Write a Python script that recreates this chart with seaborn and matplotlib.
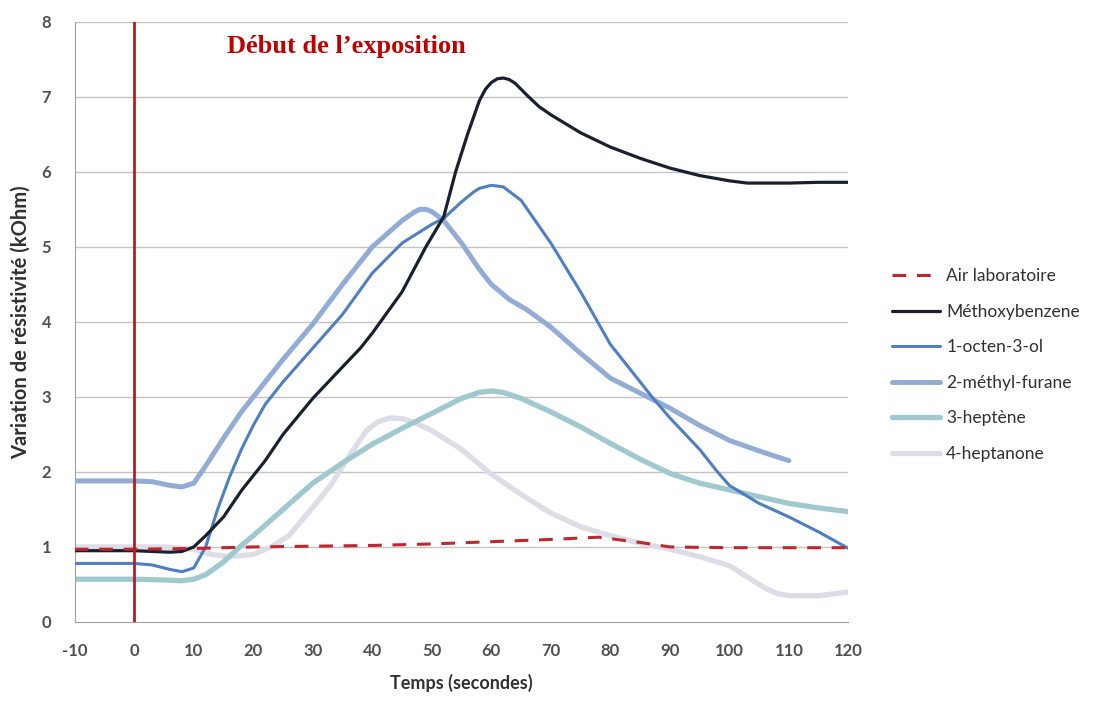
import matplotlib
matplotlib.use("Agg")
import matplotlib.pyplot as plt
import seaborn as sns

# Data (time in s, resistivity variation in kOhm)
t_air = [-10, 0, 10, 20, 30, 40, 50, 60, 70, 78, 85, 90, 100, 110, 120]
v_air = [0.97, 0.97, 0.98, 1.0, 1.01, 1.02, 1.04, 1.07, 1.1, 1.13, 1.06, 1.0, 0.99, 0.99, 0.99]

t_meth = [-10, -5, 0, 3, 6, 8, 10, 12, 15, 18, 20, 22, 25, 30, 35, 38, 40, 45, 49, 52, 54, 56,
          58, 59, 60, 61, 62, 63, 64, 66, 68, 70, 75, 80, 85, 90, 95, 100, 103, 110, 115, 120]
v_meth = [0.95, 0.95, 0.95, 0.94, 0.93, 0.94, 1.0, 1.15, 1.4, 1.75, 1.95, 2.15, 2.5, 2.98, 3.4,
          3.65, 3.85, 4.4, 5.0, 5.4, 6.0, 6.5, 6.95, 7.1, 7.19, 7.24, 7.25, 7.23, 7.18, 7.02,
          6.87, 6.76, 6.52, 6.33, 6.18, 6.05, 5.95, 5.88, 5.85, 5.85, 5.86, 5.86]

t_oct = [-10, -5, 0, 3, 6, 8, 10, 12, 14, 16, 18, 20, 22, 25, 30, 35, 40, 45, 50, 52, 55, 57,
         58, 60, 62, 65, 70, 75, 80, 85, 87, 90, 95, 98, 100, 105, 110, 115, 120]
v_oct = [0.78, 0.78, 0.78, 0.76, 0.7, 0.67, 0.72, 1.0, 1.5, 1.93, 2.3, 2.62, 2.9, 3.2, 3.65,
         4.1, 4.65, 5.05, 5.3, 5.38, 5.6, 5.73, 5.78, 5.82, 5.8, 5.62, 5.05, 4.4, 3.7, 3.2, 3.0,
         2.72, 2.3, 2.0, 1.82, 1.58, 1.4, 1.2, 0.98]

t_mf = [-10, -5, 0, 3, 6, 8, 10, 12, 15, 18, 20, 25, 30, 35, 40, 45, 47, 48, 49, 50, 52, 55,
        58, 60, 63, 66, 70, 75, 80, 85, 90, 95, 100, 105, 110]
v_mf = [1.88, 1.88, 1.88, 1.87, 1.82, 1.8, 1.85, 2.08, 2.45, 2.8, 3.0, 3.5, 3.97, 4.5, 5.0,
        5.35, 5.46, 5.5, 5.5, 5.47, 5.35, 5.05, 4.7, 4.5, 4.3, 4.16, 3.93, 3.58, 3.25, 3.05,
        2.85, 2.62, 2.42, 2.28, 2.15]

t_hep = [-10, -5, 0, 5, 8, 10, 12, 15, 18, 20, 25, 30, 35, 40, 45, 50, 55, 58, 60, 62, 65,
         70, 75, 80, 85, 90, 95, 100, 105, 110, 115, 120]
v_hep = [0.57, 0.57, 0.57, 0.56, 0.55, 0.57, 0.63, 0.8, 1.02, 1.15, 1.5, 1.85, 2.12, 2.37,
         2.58, 2.78, 2.98, 3.06, 3.08, 3.06, 2.98, 2.8, 2.6, 2.38, 2.17, 1.98, 1.85, 1.76,
         1.67, 1.58, 1.52, 1.47]

t_hpn = [-10, -5, 0, 5, 10, 13, 16, 20, 23, 26, 30, 33, 36, 39, 41, 43, 45, 47, 50, 55, 60,
         65, 70, 75, 80, 85, 90, 95, 100, 103, 106, 108, 110, 115, 120]
v_hpn = [1.0, 1.0, 1.0, 1.0, 0.97, 0.9, 0.87, 0.9, 1.0, 1.15, 1.53, 1.82, 2.2, 2.55, 2.67,
         2.72, 2.71, 2.66, 2.55, 2.3, 1.97, 1.7, 1.45, 1.27, 1.15, 1.05, 0.97, 0.87, 0.75,
         0.6, 0.45, 0.38, 0.35, 0.35, 0.4]

labels = ["Air laboratoire", "Méthoxybenzene", "1-octen-3-ol", "2-méthyl-furane",
          "3-heptène", "4-heptanone"]
x_ticks = list(range(-10, 121, 10))
y_ticks = list(range(0, 9))

sns.set_style("white")
plt.rcParams['font.family'] = ['Lato', 'DejaVu Sans']
plt.rcParams['axes.unicode_minus'] = False

fig, ax = plt.subplots(figsize=(10.99, 7.02), dpi=100)
fig.subplots_adjust(left=0.068, right=0.772, bottom=0.114, top=0.969)

for y in y_ticks[1:]:
    ax.axhline(y, color='#c4c4c4', lw=1, zorder=0)

ax.axvline(0, color='#b21f1f', lw=2, zorder=5)

style = dict(solid_joinstyle='round', solid_capstyle='round')
sns.lineplot(x=t_hpn, y=v_hpn, ax=ax, color='#dcdde6', lw=3.8, label=labels[5], zorder=2, **style)
sns.lineplot(x=t_hep, y=v_hep, ax=ax, color='#9fc9cf', lw=3.8, label=labels[4], zorder=2, **style)
sns.lineplot(x=t_mf, y=v_mf, ax=ax, color='#93acd6', lw=3.6, label=labels[3], zorder=3, **style)
sns.lineplot(x=t_oct, y=v_oct, ax=ax, color='#4f7fc2', lw=2.2, label=labels[2], zorder=3, **style)
sns.lineplot(x=t_meth, y=v_meth, ax=ax, color='#18202f', lw=2.3, label=labels[1], zorder=4, **style)
sns.lineplot(x=t_air, y=v_air, ax=ax, color='#c0272d', lw=2.2, label=labels[0],
             dashes=(4.5, 3.5), zorder=4)

ax.set_xlim(-10, 120)
ax.set_ylim(0, 8)
ax.set_xticks(x_ticks)
ax.set_yticks(y_ticks)
ax.tick_params(axis='both', labelsize=12, labelcolor='#505050', colors='#a0a0a0',
               length=5, width=1)
for lab in ax.get_xticklabels() + ax.get_yticklabels():
    lab.set_fontweight('bold')
ax.tick_params(axis='x', pad=10)
ax.tick_params(axis='y', pad=12)

for side in ['top', 'right']:
    ax.spines[side].set_visible(False)
for side in ['left', 'bottom']:
    ax.spines[side].set_color('#a0a0a0')

ax.set_xlabel("Temps (secondes)", fontsize=13, fontweight='bold', color='#303030', labelpad=11)
ax.set_ylabel("Variation de résistivité (kOhm)", fontsize=14.5, fontweight='bold',
              color='#303030', labelpad=8)

ax.text(15.6, 7.67, "Début de l\u2019exposition", fontsize=19, fontweight='bold',
        color='#c00000', family=['Liberation Serif', 'DejaVu Serif'], va='center', ha='left')

handles, labs = ax.get_legend_handles_labels()
order = [labs.index(l) for l in labels]
ax.get_legend().remove()
fig.legend([handles[i] for i in order], labels, loc='center left',
           bbox_to_anchor=(0.797, 0.48), frameon=False, fontsize=12.5,
           handlelength=2.8, labelspacing=1.12, handletextpad=0.35, labelcolor='#303030')

fig.savefig("out.png", dpi=100)
